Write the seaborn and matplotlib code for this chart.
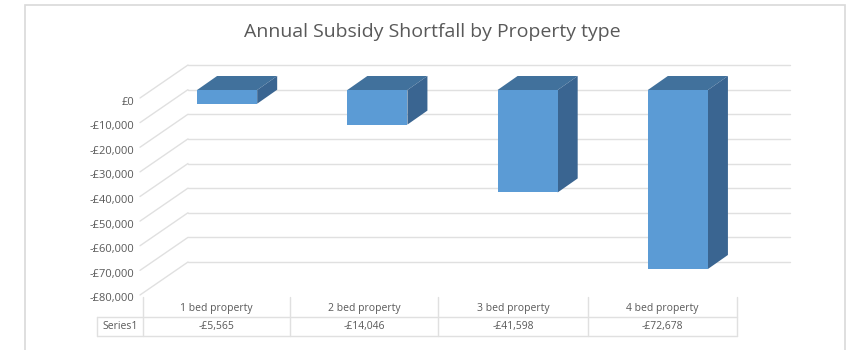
import matplotlib
matplotlib.use("Agg")
import matplotlib.pyplot as plt
import seaborn as sns
import pandas as pd
from matplotlib.lines import Line2D
from matplotlib.patches import Polygon, Rectangle
from matplotlib.transforms import IdentityTransform

# ---- data ----
categories = ["1 bed property", "2 bed property", "3 bed property", "4 bed property"]
values = [-5565, -14046, -41598, -72678]
series_name = "Series1"
title = "Annual Subsidy Shortfall by Property type"
y_ticks = [0, -10000, -20000, -30000, -40000, -50000, -60000, -70000, -80000]


def money(v):
    return "£0" if v == 0 else ("-£{:,}".format(abs(v)) if v < 0 else "£{:,}".format(v))


W, H = 854, 350
TXT = "#595959"
GRID = "#e0e0e0"
FRONT = "#5B9BD5"
TOP = "#41719C"
SIDE = "#3A6591"
FONT = ["Open Sans", "DejaVu Sans"]

sns.set_theme(style="white")
plt.rcParams["font.family"] = FONT

fig = plt.figure(figsize=(W / 100, H / 100), dpi=100)
fig.patch.set_facecolor("white")

I = IdentityTransform()


def P(x, y):
    """image pixel (top-left origin) -> display"""
    return x, H - y


# axes for the bar front plane
bx0, bx1, by0, by1 = 152, 753, 90, 287
ax = fig.add_axes([bx0 / W, (H - by1) / H, (bx1 - bx0) / W, (by1 - by0) / H])
ax.patch.set_visible(False)

df = pd.DataFrame({"cat": categories, "val": values})
sns.barplot(data=df, x="cat", y="val", ax=ax, color=FRONT, saturation=1,
            width=0.4, linewidth=0, zorder=3)
ax.set_xlim(-0.5, len(categories) - 0.5)
ax.set_ylim(min(y_ticks), 0)
ax.axis("off")

# outer border
fig.add_artist(Rectangle(P(25, 352), 820, 347, transform=I, fill=False,
                         edgecolor="#d9d9d9", linewidth=1.2, zorder=-2))

# title
fig.text(432 / W, 1 - 32 / H, title, ha="center", va="center", fontsize=14,
         color=TXT, family=FONT)


def ydisp(v):
    return ax.transData.transform((0, v))[1]


# back wall gridlines, diagonal floor lines and tick labels
back_dy = 25      # back wall above bar front (px)
front_dy = -10    # front plane below bar front (px)
for t in y_ticks:
    yb = ydisp(t) + back_dy
    yf = ydisp(t) + front_dy
    fig.add_artist(Line2D([188, 790], [yb, yb], transform=I, color=GRID,
                          linewidth=1.0, zorder=-1))
    fig.add_artist(Line2D([140, 188], [yf + 2, yb], transform=I, color=GRID,
                          linewidth=1.0, zorder=-1))
    fig.text(134 / W, (yf - 2) / H, money(t), ha="right", va="center",
             fontsize=8, color=TXT, family=FONT)

# 3D faces for bars
ddx, ddy = 20, 14
for p in ax.patches:
    if not isinstance(p, Rectangle):
        continue
    x0, yv = p.get_x(), p.get_y()
    x1 = x0 + p.get_width()
    ytop = max(yv, yv + p.get_height())
    ybot = min(yv, yv + p.get_height())
    (X0, YT) = ax.transData.transform((x0, ytop))
    (X1, YB) = ax.transData.transform((x1, ybot))
    top = Polygon([(X0, YT), (X1, YT), (X1 + ddx, YT + ddy), (X0 + ddx, YT + ddy)],
                  closed=True, transform=I, facecolor=TOP, edgecolor="none",
                  clip_on=False, zorder=2)
    side = Polygon([(X1, YT), (X1 + ddx, YT + ddy), (X1 + ddx, YB + ddy), (X1, YB)],
                   closed=True, transform=I, facecolor=SIDE, edgecolor="none",
                   clip_on=False, zorder=2)
    ax.add_patch(top)
    ax.add_patch(side)

# data table
col_edges = [143, 290, 438, 588, 737]
ty0, ty1, ty2 = 297, 317, 336
lab_x0 = 97
for xe in col_edges:
    fig.add_artist(Line2D([xe, xe], [H - ty0, H - ty2], transform=I, color=GRID,
                          linewidth=1.0))
for yy in (ty1, ty2):
    fig.add_artist(Line2D([lab_x0, col_edges[-1]], [H - yy, H - yy], transform=I,
                          color=GRID, linewidth=1.0))
fig.add_artist(Line2D([lab_x0, lab_x0], [H - ty1, H - ty2], transform=I,
                      color=GRID, linewidth=1.0))
fig.text(((lab_x0 + col_edges[0]) / 2) / W, 1 - ((ty1 + ty2) / 2) / H, series_name,
         ha="center", va="center", fontsize=7.5, color=TXT, family=FONT)
for i, (c, v) in enumerate(zip(categories, values)):
    cx = (col_edges[i] + col_edges[i + 1]) / 2
    fig.text(cx / W, 1 - ((ty0 + ty1) / 2 + 2) / H, c, ha="center", va="center",
             fontsize=7.5, color=TXT, family=FONT)
    fig.text(cx / W, 1 - ((ty1 + ty2) / 2) / H, money(v), ha="center", va="center",
             fontsize=7.5, color=TXT, family=FONT)

fig.savefig("out.png", dpi=100, facecolor="white")
